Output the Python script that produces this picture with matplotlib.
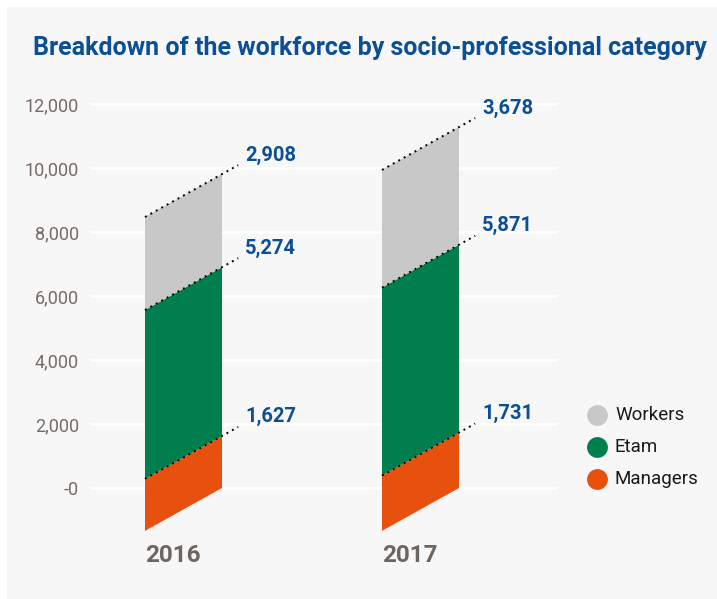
import matplotlib
matplotlib.use("Agg")
import matplotlib.pyplot as plt
from matplotlib.patches import Polygon, Rectangle
from matplotlib.lines import Line2D

# ---- data ----
years = ["2016", "2017"]
categories = ["Managers", "Etam", "Workers"]
managers = [1627, 1731]
etam = [5274, 5871]
workers = [2908, 3678]
yticks = [0, 2000, 4000, 6000, 8000, 10000, 12000]
ytick_labels = ["-0", "2,000", "4,000", "6,000", "8,000", "10,000", "12,000"]
title = "Breakdown of the workforce by socio-professional category"

# ---- style ----
colors = {"Managers": "#e8500e", "Etam": "#007e4e", "Workers": "#c8c8c8"}
blue = "#0b4f95"
tick_gray = "#756c67"
year_gray = "#6d6560"
bg = "#f7f7f7"
SKEW = 1340      # vertical drop of the left edge (drawing style)
WIDTH = 0.325    # bar width in category units
EXT = 0.21       # extension of dotted line beyond bar (fraction of width)

W, H = 717, 599
fig = plt.figure(figsize=(W / 100, H / 100), dpi=100)
fig.patch.set_facecolor("white")
fig.add_artist(Rectangle((7 / W, 0), 1, 1 - 7 / H, transform=fig.transFigure,
                         facecolor=bg, edgecolor="none", zorder=0))

# axes placement in pixels
px_left, px_right = 90, 558
px_top, px_bottom = 90, 540
ax = fig.add_axes([px_left / W, 1 - px_bottom / H, (px_right - px_left) / W,
                   (px_bottom - px_top) / H])
ax.set_facecolor("none")
scale = 0.032  # px per unit
y0px = 488
ax.set_ylim((y0px - px_bottom) / scale, (y0px - px_top) / scale)
c0, sp = 183.5, 237.0
ax.set_xlim((px_left - c0) / sp, (px_right - c0) / sp)

for s in ax.spines.values():
    s.set_visible(False)
ax.set_yticks(yticks)
ax.set_yticklabels(ytick_labels, fontsize=13, color=tick_gray,
                   family=["Roboto", "DejaVu Sans"], fontweight="normal")
ax.tick_params(axis="y", length=0, pad=8)
ax.set_xticks([])
ax.grid(axis="y", color="white", linewidth=2)
ax.set_axisbelow(True)

series = [("Managers", managers), ("Etam", etam), ("Workers", workers)]
for i, yr in enumerate(years):
    xl, xr = i - WIDTH / 2, i + WIDTH / 2
    base = 0
    for name, vals in series:
        top = base + vals[i]
        poly = Polygon([(xl, base - SKEW), (xr, base), (xr, top), (xl, top - SKEW)],
                       closed=True, facecolor=colors[name], edgecolor="none", zorder=2)
        ax.add_patch(poly)
        xe = xr + EXT * WIDTH
        ye = top + SKEW * EXT
        ax.add_line(Line2D([xl, xe], [top - SKEW, ye], color="black", linewidth=1.4,
                           linestyle=(0, (1, 2.2)), zorder=3))
        ax.annotate(f"{vals[i]:,}", xy=(xe, ye), xytext=(7, 10),
                    textcoords="offset pixels", ha="left", va="center",
                    fontsize=14.5, fontweight="bold", color=blue,
                    family=["Roboto", "DejaVu Sans"], zorder=4)
        base = top
    fig.text((c0 + i * sp - 38.5) / W, 1 - 555 / H, yr, ha="left", va="center",
             fontsize=17.5, fontweight="bold", color=year_gray,
             family=["Roboto", "DejaVu Sans"])

# title
fig.text(370 / W, 1 - 48 / H, title, ha="center", va="center", fontsize=18,
         fontweight="bold", color=blue, family=["Roboto", "DejaVu Sans"])

# legend
for k, name in enumerate(["Workers", "Etam", "Managers"]):
    yy = 1 - (415 + 32 * k) / H
    fig.add_artist(Line2D([597 / W], [yy], marker="o", markersize=15,
                          markerfacecolor=colors[name], markeredgecolor="none",
                          linestyle="none", transform=fig.transFigure))
    fig.text(615 / W, yy, name, ha="left", va="center", fontsize=13.5,
             color="#1a1a1a", family=["Roboto", "DejaVu Sans"])

fig.savefig("out.png", dpi=100, facecolor=fig.get_facecolor())
